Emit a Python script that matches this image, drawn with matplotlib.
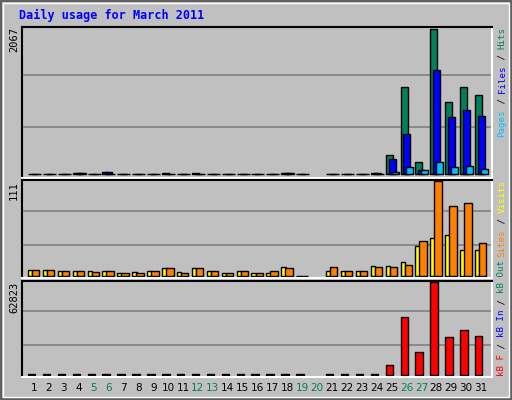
import numpy as np
import matplotlib.pyplot as plt
from matplotlib.patches import Rectangle

days = list(range(1, 32))
weekend = [5, 6, 12, 13, 19, 20, 26, 27]

# daily values (day 20 has no data)
hits = [12, 12, 12, 20, 12, 30, 12, 12, 12, 14, 12, 18, 12, 12, 12, 12, 12, 16, 12, np.nan,
        12, 12, 12, 16, 271, 1238, 173, 2067, 1028, 1238, 1126]
files = [8, 8, 8, 16, 8, 28, 8, 8, 8, 10, 8, 12, 8, 8, 8, 8, 8, 14, 8, np.nan,
         8, 8, 8, 14, 215, 580, 61, 1482, 818, 921, 832]
pages = [6, 6, 6, 14, 6, 8, 6, 6, 6, 6, 6, 6, 6, 6, 6, 6, 6, 14, 6, np.nan,
         6, 6, 6, 12, 38, 103, 60, 173, 103, 117, 70]
visits = [7, 7, 6, 6, 6, 6, 3, 4, 6, 9, 4, 9, 6, 3, 6, 3, 3, 10, 0, np.nan,
          6, 6, 6, 11, 11, 16, 35, 44, 48, 30, 30]
sites = [7, 7, 6, 6, 4, 6, 3, 3, 6, 9, 3, 9, 6, 3, 6, 3, 5, 9, 0, np.nan,
         10, 6, 6, 10, 10, 12, 41, 111, 82, 86, 39]
kbytes = [300, 300, 300, 300, 300, 300, 300, 300, 300, 300, 300, 300, 300, 300, 300, 300, 300, 300, 300, np.nan,
          300, 300, 300, 300, 6400, 39400, 15600, 62823, 25700, 30500, 26400]

BG = '#C0C0C0'
W, H = 512, 400
fig = plt.figure(figsize=(W / 100, H / 100), dpi=100, facecolor=BG)
mono = 'DejaVu Sans Mono'

# outer frame
fig.patches.append(Rectangle((0, 0), 1, 1, transform=fig.transFigure, fill=False,
                             edgecolor='#606060', linewidth=3))
fig.patches.append(Rectangle((3 / W, 3 / H), 1 - 6 / W, 1 - 6 / H, transform=fig.transFigure,
                             fill=False, edgecolor='white', linewidth=1))


def make_ax(top, bottom):
    ax = fig.add_axes([22 / W, 1 - bottom / H, (492 - 22) / W, (bottom - top) / H])
    ax.set_facecolor(BG)
    ax.set_xlim(0.2, 31.74)
    ax.set_xticks([])
    ax.set_yticks([])
    for s in ['left', 'top']:
        ax.spines[s].set_color('black')
    for s in ['right', 'bottom']:
        ax.spines[s].set_color('white')
    for s in ax.spines.values():
        s.set_linewidth(1.5)
    return ax


def grid(ax, vmax):
    ax.set_ylim(-vmax * 0.025, vmax * 1.015)
    for f in (0.327, 0.685):
        ax.axhline(vmax * f, color='#808080', linewidth=1.2, zorder=0)


x = np.array(days, dtype=float)
kw = dict(align='edge', edgecolor='black', linewidth=1)

ax1 = make_ax(27, 178)
grid(ax1, 2067)
ax1.bar(x - 0.4, hits, width=0.47, color='#00805C', **kw)
ax1.bar(x - 0.2, files, width=0.47, color='#0000FF', **kw)
ax1.bar(x + 0.0, pages, width=0.47, color='#00C0FF', **kw)

ax2 = make_ax(180, 278)
grid(ax2, 111)
ax2.bar(x - 0.4, visits, width=0.3, color='#FFFF00', **kw)
ax2.bar(x - 0.13, sites, width=0.5, color='#FF8000', **kw)

ax3 = make_ax(281, 377)
grid(ax3, 62823)
ax3.bar(x - 0.4, kbytes, width=0.5, color='#FF0000', **kw)

# title
fig.text(19 / W, 1 - 15 / H, 'Daily usage for March 2011', color='#0000FF', family=mono,
         fontsize=8.5, fontweight='bold', va='center', ha='left')

# max labels
for label, top in [('2067', 27), ('111', 181), ('62823', 282)]:
    fig.text(14 / W, 1 - top / H, label, rotation=90, ha='center', va='top',
             family=mono, fontsize=7.5, color='black')

# day labels
for d in days:
    px = 34 + (d - 1) * 14.9
    fig.text(px / W, 1 - 388 / H, str(d), ha='center', va='center', fontsize=7.5,
             color='#00805C' if d in weekend else 'black')

# right-side legends, drawn bottom-up
FS = 6.6
CW = FS * 100 / 72 * 0.602


def legend(start_py, parts):
    py = start_py
    for txt, col in parts:
        fig.text(502 / W, 1 - py / H, txt, rotation=90, ha='center', va='bottom',
                 family=mono, fontsize=FS, color=col)
        py -= CW * len(txt)


legend(137, [('Pages', '#00C0FF'), (' / ', 'black'), ('Files', '#0000FF'),
             (' / ', 'black'), ('Hits', '#00805C')])
legend(257, [('Sites', '#FF8000'), (' / ', 'black'), ('Visits', '#FFFF00')])
legend(376, [('kB F', '#FF0000'), (' / ', 'black'), ('kB In', '#0000FF'),
             (' / ', 'black'), ('kB Out', '#00805C')])

plt.savefig('out.png', dpi=100, facecolor=BG)
